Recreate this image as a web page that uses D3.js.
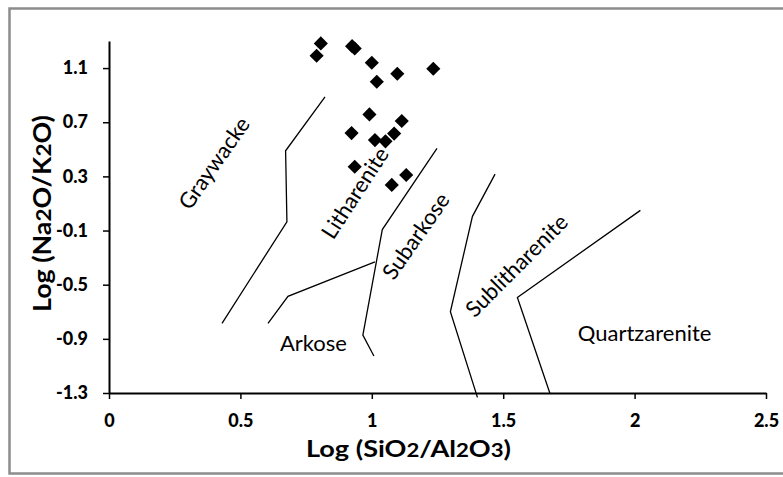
<!DOCTYPE html>
<html>
<head>
<meta charset="utf-8">
<script src="https://cdn.jsdelivr.net/npm/d3@7"></script>
<style>
  html, body { margin: 0; padding: 0; background: #fff; }
  svg { display: block; }
  text { font-family: Lato, "Open Sans", sans-serif; }
</style>
</head>
<body>
<svg id="chart" width="783" height="477"></svg>
<script>
// Sample compositions: log(SiO2/Al2O3) vs log(Na2O/K2O)
const sampleX = [0.806, 0.790, 0.925, 0.935, 1.000, 1.097, 1.234, 1.019, 0.991, 1.114, 0.923, 1.012, 1.052, 1.085, 0.935, 1.131, 1.076];
const sampleY = [1.282, 1.191, 1.262, 1.245, 1.139, 1.058, 1.095, 0.999, 0.758, 0.709, 0.620, 0.568, 0.559, 0.616, 0.371, 0.310, 0.237];

// Classification field boundaries (Pettijohn et al.), each a polyline in data units
const graywackeLine    = [[0.822, 0.888], [0.672, 0.489], [0.677, -0.035], [0.430, -0.786]];
const arkoseLine       = [[0.605, -0.786], [0.681, -0.586], [1.012, -0.331]];
const subarkoseLine    = [[1.248, 0.507], [1.040, -0.093], [0.966, -0.872], [1.008, -1.027]];
const sublithLine      = [[1.469, 0.317], [1.383, 0.005], [1.299, -0.700], [1.402, -1.332]];
const quartzLine       = [[2.022, 0.049], [1.554, -0.594], [1.678, -1.304]];
const boundaries = [graywackeLine, arkoseLine, subarkoseLine, sublithLine, quartzLine];

// Field names, their centres (data units) and rotation
const fieldNames  = ["Graywacke", "Litharenite", "Subarkose", "Sublitharenite", "Arkose", "Quartzarenite"];
const fieldX      = [0.400, 0.936, 1.168, 1.551, 0.778, 2.038];
const fieldY      = [0.398, 0.177, -0.141, -0.359, -0.931, -0.857];
const fieldAngle  = [-55, -57, -55, -45, 0, 0];

const xTicks = [0, 0.5, 1, 1.5, 2, 2.5];
const yTicks = [-1.3, -0.9, -0.5, -0.1, 0.3, 0.7, 1.1];

const svg = d3.select("#chart");
const plot = { left: 109, right: 766, top: 41, bottom: 393 };

// outer frame
svg.append("rect")
  .attr("x", 9.5).attr("y", 8.5)
  .attr("width", 820).attr("height", 465)
  .attr("fill", "#fff")
  .attr("stroke", "#8c8c8c")
  .attr("stroke-width", 2.5);

const x = d3.scaleLinear().domain([0, 2.5]).range([plot.left, plot.right]);
const y = d3.scaleLinear().domain([-1.3, 1.3]).range([plot.bottom, plot.top]);

// axes
const xAxis = svg.append("g")
  .attr("transform", `translate(0,${plot.bottom})`)
  .call(d3.axisBottom(x).tickValues(xTicks).tickSize(6).tickSizeOuter(0).tickPadding(15)
    .tickFormat(d => String(d)));
const yAxis = svg.append("g")
  .attr("transform", `translate(${plot.left},0)`)
  .call(d3.axisLeft(y).tickValues(yTicks).tickSize(6).tickSizeOuter(0).tickPadding(15)
    .tickFormat(d => String(d)));

[xAxis, yAxis].forEach(g => {
  g.select(".domain").attr("stroke", "#000").attr("stroke-width", 2);
  g.selectAll(".tick line").attr("stroke", "#000").attr("stroke-width", 1.5);
  g.selectAll(".tick text")
    .attr("fill", "#000")
    .style("font-family", "Lato, sans-serif")
    .style("font-size", "18px")
    .style("font-weight", "900");
});

// boundary lines
const line = d3.line().x(d => x(d[0])).y(d => y(d[1]));
svg.append("g").selectAll("path")
  .data(boundaries)
  .join("path")
  .attr("d", line)
  .attr("fill", "none")
  .attr("stroke", "#000")
  .attr("stroke-width", 1.3);

// field names
svg.append("g").selectAll("text")
  .data(fieldNames)
  .join("text")
  .attr("transform", (d, i) => `translate(${x(fieldX[i])},${y(fieldY[i])}) rotate(${fieldAngle[i]})`)
  .attr("text-anchor", "middle")
  .attr("dy", "0.35em")
  .style("font-size", "22px")
  .attr("fill", "#000")
  .text(d => d);

// sample points (diamonds)
const diamond = d3.symbol().type(d3.symbolSquare).size(100);
svg.append("g").selectAll("path")
  .data(sampleX.map((v, i) => [v, sampleY[i]]))
  .join("path")
  .attr("d", diamond)
  .attr("transform", d => `translate(${x(d[0])},${y(d[1])}) rotate(45)`)
  .attr("fill", "#000");

// axis titles
const xt = svg.append("text")
  .attr("x", 306)
  .attr("y", 457)
  .attr("textLength", 205)
  .attr("lengthAdjust", "spacingAndGlyphs")
  .style("font-size", "22px")
  .style("font-weight", "bold")
  .attr("fill", "#000");
xt.append("tspan").text("Log (SiO");
xt.append("tspan").style("font-size", "18px").text("2");
xt.append("tspan").text("/Al");
xt.append("tspan").style("font-size", "18px").text("2");
xt.append("tspan").text("O");
xt.append("tspan").style("font-size", "18px").text("3");
xt.append("tspan").text(")");

const yt = svg.append("text")
  .attr("transform", `translate(51,312) rotate(-90)`)
  .attr("textLength", 197)
  .attr("lengthAdjust", "spacingAndGlyphs")
  .style("font-size", "24px")
  .style("font-weight", "bold")
  .attr("fill", "#000");
yt.append("tspan").text("Log (Na");
yt.append("tspan").style("font-size", "20px").text("2");
yt.append("tspan").text("O/K");
yt.append("tspan").style("font-size", "20px").text("2");
yt.append("tspan").text("O)");
</script>
</body>
</html>
